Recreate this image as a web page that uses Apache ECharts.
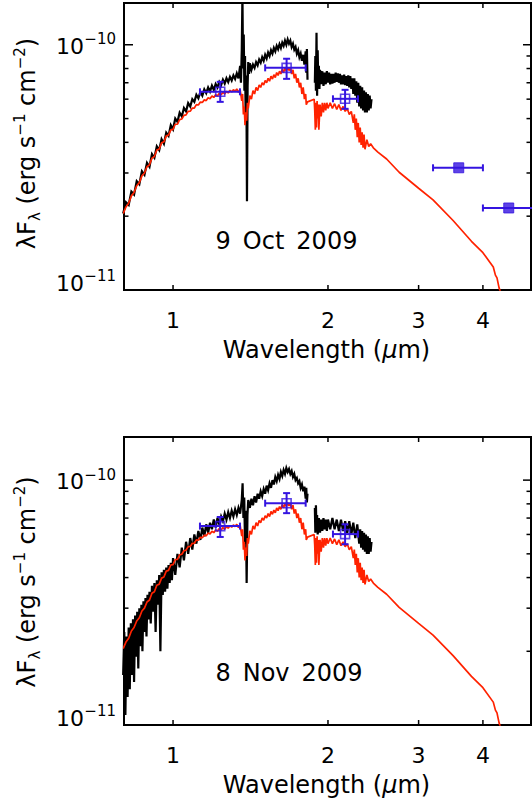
<!DOCTYPE html>
<html><head><meta charset="utf-8">
<script src="https://cdn.jsdelivr.net/npm/echarts@6/dist/echarts.min.js"></script>
<style>html,body{margin:0;padding:0;background:#fff}#c{width:532px;height:803px}</style>
</head><body><div id="c"></div>
<script>
// Flux values are lambda*F_lambda in units of 1e-11 erg s^-1 cm^-2; wavelengths in micron.
const xTickValues = [1, 2, 3, 4];
const yMajorValues = [1, 10];             // 1e-11, 1e-10
const yMinorValues = [2, 3, 4, 5, 6, 7, 8, 9];
const panelDates = ['9 Oct 2009', '8 Nov 2009'];

// Observed spectrum, 9 Oct 2009 (black)
const obsOct = [
[0.80,2.05],[0.81,2.28],[0.82,2.22],[0.83,2.52],[0.84,2.45],[0.85,2.78],[0.86,2.70],[0.87,3.05],[0.88,2.95],[0.89,3.30],
[0.90,3.18],[0.91,3.58],[0.92,3.46],[0.93,3.85],[0.94,3.72],[0.95,4.12],[0.96,3.95],[0.97,4.38],[0.98,4.25],[0.99,4.70],
[1.00,4.52],[1.01,5.00],[1.02,4.85],[1.03,5.28],[1.04,5.10],[1.05,5.52],[1.06,5.35],[1.07,5.78],[1.08,5.60],[1.09,6.00],
[1.10,5.85],[1.11,6.25],[1.12,6.05],[1.13,6.42],[1.14,6.20],[1.15,6.58],[1.16,6.35],[1.17,6.70],[1.18,6.45],[1.19,6.82],
[1.20,6.55],[1.21,6.92],[1.22,6.70],[1.23,7.05],[1.24,6.85],[1.25,7.20],[1.26,6.95],[1.27,7.30],[1.28,7.05],[1.29,7.40],
[1.30,7.15],[1.31,7.50],[1.32,7.25],[1.33,7.65],[1.34,7.30],
[1.350,8.2],[1.355,7.0],[1.360,9.5],[1.364,16],[1.368,8.0],[1.372,11.0],[1.376,6.5],[1.380,9.0],[1.384,5.0],[1.388,7.5],
[1.392,2.3],[1.396,6.8],[1.400,8.5],[1.405,7.6],[1.410,8.4],
[1.42,7.9],[1.43,8.3],[1.44,8.05],[1.45,8.5],[1.46,8.25],[1.47,8.7],[1.48,8.45],[1.49,8.9],[1.50,8.6],[1.51,9.1],
[1.52,8.8],[1.53,9.3],[1.54,9.0],[1.55,9.5],[1.56,9.2],[1.57,9.7],[1.58,9.4],[1.59,9.9],[1.60,9.6],[1.61,10.05],
[1.62,9.7],[1.63,10.2],[1.64,9.9],[1.65,10.4],[1.66,10.0],[1.67,10.5],[1.68,10.1],[1.69,10.4],[1.70,9.8],[1.71,10.1],
[1.72,9.55],[1.73,9.8],[1.74,9.2],[1.75,9.5],[1.76,8.9],[1.77,9.2],[1.78,8.6],[1.79,9.1],[1.80,8.3],[1.81,9.4],
[1.815,7.7],[1.82,9.6],[1.825,7.2],[1.85,null],
[1.886,7.0],[1.89,9.0],[1.895,6.5],[1.90,11.2],[1.905,6.2],[1.91,9.5],[1.915,6.8],[1.92,8.2],[1.925,6.6],[1.93,7.9],
[1.94,6.9],[1.95,7.8],[1.96,6.8],[1.97,7.7],[1.98,6.9],[1.99,7.8],[2.00,7.0],[2.01,7.7],[2.02,6.9],[2.03,7.6],
[2.04,6.95],[2.05,7.6],[2.06,7.0],[2.07,7.7],[2.08,7.05],[2.09,7.65],[2.10,7.0],[2.11,7.6],[2.12,6.9],[2.13,7.5],
[2.14,6.9],[2.15,7.55],[2.16,6.85],[2.17,7.45],[2.18,6.8],[2.19,7.5],[2.20,6.7],[2.21,7.45],[2.22,6.6],[2.23,7.3],
[2.24,6.3],[2.25,7.3],[2.26,6.2],[2.27,7.1],[2.28,5.8],[2.29,7.0],[2.30,5.6],[2.31,6.8],[2.32,5.5],[2.33,6.7],
[2.34,5.4],[2.35,6.5],[2.36,5.3],[2.37,6.4],[2.38,5.3],[2.39,6.3],[2.40,5.4],[2.41,6.2],[2.42,5.5],[2.43,6.0]
];

// Observed spectrum, 8 Nov 2009 (black)
const obsNov = [
[0.800,1.6],[0.804,2.4],[0.808,1.1],[0.812,2.3],[0.816,1.3],[0.820,2.5],[0.824,1.4],[0.828,2.6],[0.832,1.6],[0.836,2.7],
[0.840,1.5],[0.844,2.8],[0.848,1.9],[0.852,2.9],[0.856,1.7],[0.860,3.0],[0.864,2.1],[0.868,3.1],[0.872,2.0],[0.876,3.2],
[0.880,2.4],[0.884,3.3],[0.888,2.3],[0.892,3.4],[0.896,2.7],[0.900,3.5],[0.905,2.6],[0.910,3.7],[0.915,2.9],[0.920,3.8],
[0.925,2.4],[0.930,3.9],[0.935,3.1],[0.940,4.1],[0.945,2.0],[0.950,4.2],[0.955,3.4],[0.960,4.3],[0.965,3.5],[0.970,4.4],
[0.975,3.6],[0.980,4.5],[0.985,3.8],[0.990,4.6],[0.995,3.9],[1.000,4.8],[1.010,4.1],[1.020,5.0],[1.030,4.4],[1.040,5.3],
[1.050,4.7],[1.060,5.6],[1.070,5.0],[1.080,5.8],[1.090,5.2],[1.100,6.0],[1.110,5.5],[1.120,6.2],[1.130,5.7],[1.140,6.4],
[1.150,5.9],[1.160,6.6],[1.170,6.1],[1.180,6.7],[1.190,6.3],[1.200,6.9],[1.210,6.4],[1.220,7.0],[1.230,6.6],[1.240,7.1],
[1.250,6.8],[1.260,7.3],[1.270,6.9],[1.280,7.4],[1.290,7.0],[1.300,7.5],[1.310,7.1],[1.320,7.6],[1.330,7.2],[1.340,7.7],
[1.350,7.3],[1.360,8.3],[1.365,9.7],[1.370,7.0],[1.375,8.5],[1.380,5.5],[1.385,7.5],[1.390,3.8],[1.395,7.2],[1.400,8.3],
[1.410,7.7],[1.420,8.4],[1.430,7.9],[1.440,8.6],[1.450,8.1],[1.460,8.8],[1.470,8.4],[1.480,9.0],[1.490,8.6],[1.500,9.2],
[1.510,8.8],[1.520,9.5],[1.530,9.1],[1.540,9.7],[1.550,9.3],[1.560,10.0],[1.570,9.6],[1.580,10.3],[1.590,9.9],[1.600,10.5],
[1.610,10.1],[1.620,10.8],[1.630,10.4],[1.640,11.0],[1.650,10.6],[1.660,11.2],[1.670,10.8],[1.680,11.1],[1.690,10.6],[1.700,10.9],
[1.710,10.3],[1.720,10.6],[1.730,10.0],[1.740,10.2],[1.750,9.7],[1.760,9.9],[1.770,9.3],[1.780,9.6],[1.790,9.0],[1.800,9.4],
[1.810,8.4],[1.815,9.3],[1.820,8.1],[1.825,8.8],[1.85,null],
[1.886,7.7],[1.890,6.1],[1.895,7.9],[1.900,6.2],[1.905,7.2],[1.910,6.0],[1.920,7.0],[1.930,6.1],[1.940,6.9],[1.950,6.2],
[1.960,7.0],[1.970,6.3],[1.980,6.9],[1.990,6.2],[2.000,6.9],[2.020,6.3],[2.040,7.0],[2.060,6.3],[2.080,6.9],[2.100,6.2],
[2.120,6.9],[2.140,6.2],[2.160,6.8],[2.180,6.1],[2.200,6.8],[2.220,6.0],[2.240,6.7],[2.260,5.8],[2.280,6.6],[2.300,5.5],
[2.310,6.3],[2.320,5.3],[2.330,6.2],[2.340,5.2],[2.350,6.1],[2.360,5.1],[2.370,6.0],[2.380,5.0],[2.390,5.9],[2.400,5.0],
[2.410,5.8],[2.420,5.1],[2.430,5.6]
];

// Model spectrum (red), same in both panels
const modelSpec = [
[0.800,2.05],[0.810,2.18],[0.820,2.26],[0.830,2.42],[0.840,2.50],[0.850,2.66],[0.860,2.74],[0.870,2.92],[0.880,3.00],[0.890,3.18],
[0.900,3.24],[0.910,3.45],[0.920,3.50],[0.930,3.72],[0.940,3.76],[0.950,3.98],[0.960,4.02],[0.970,4.25],[0.980,4.28],[0.990,4.50],
[1.000,4.52],[1.010,4.74],[1.020,4.75],[1.030,4.95],[1.040,4.98],[1.050,5.15],[1.060,5.18],[1.070,5.35],[1.080,5.36],[1.090,5.52],
[1.100,5.52],[1.110,5.70],[1.120,5.68],[1.130,5.84],[1.140,5.82],[1.150,5.96],[1.160,5.92],[1.170,6.08],[1.180,6.02],[1.190,6.18],
[1.200,6.10],[1.210,6.26],[1.220,6.18],[1.230,6.34],[1.240,6.25],[1.250,6.40],[1.260,6.30],[1.270,6.46],[1.280,6.36],[1.290,6.52],
[1.300,6.42],[1.310,6.56],[1.320,6.46],[1.330,6.60],[1.340,6.40],[1.350,6.55],[1.360,5.9],[1.365,6.3],[1.370,5.2],[1.375,5.6],
[1.380,4.7],[1.385,5.3],[1.390,4.9],[1.395,5.8],[1.400,5.5],[1.410,6.2],[1.420,6.0],[1.430,6.5],[1.440,6.3],[1.450,6.7],
[1.460,6.5],[1.470,6.85],[1.480,6.7],[1.490,7.0],[1.500,6.85],[1.510,7.15],[1.520,7.0],[1.530,7.3],[1.540,7.1],[1.550,7.45],
[1.560,7.25],[1.570,7.55],[1.580,7.35],[1.590,7.7],[1.600,7.5],[1.610,7.8],[1.620,7.6],[1.630,7.95],[1.640,7.7],[1.650,8.05],
[1.660,7.8],[1.670,8.1],[1.680,7.85],[1.690,8.05],[1.700,7.6],[1.710,7.9],[1.720,7.3],[1.730,7.6],[1.740,7.0],[1.750,7.3],
[1.760,6.7],[1.770,7.0],[1.780,6.3],[1.790,6.7],[1.800,6.0],[1.810,6.3],[1.815,5.7],[1.825,5.85],[1.880,6.0],[1.885,5.4],
[1.890,4.5],[1.895,5.8],[1.900,4.6],[1.905,5.9],[1.910,5.0],[1.915,5.7],[1.920,4.5],[1.930,5.7],[1.940,5.1],[1.950,5.8],
[1.960,5.3],[1.970,5.8],[1.980,5.4],[1.990,5.8],[2.000,5.5],[2.020,5.8],[2.040,5.5],[2.060,5.75],[2.080,5.45],[2.100,5.7],
[2.120,5.4],[2.140,5.6],[2.160,5.35],[2.180,5.5],[2.200,5.2],[2.220,5.35],[2.240,4.8],[2.250,5.2],[2.260,4.5],[2.270,5.0],
[2.280,4.2],[2.290,4.8],[2.300,4.0],[2.310,4.6],[2.320,3.9],[2.330,4.4],[2.340,3.8],[2.350,4.3],[2.360,3.75],[2.380,4.1],
[2.400,3.85],[2.420,3.95],[2.450,3.8],[2.500,3.65],[2.600,3.42],[2.750,3.02],[3.000,2.60],[3.200,2.33],[3.500,1.92],[3.800,1.58],
[4.000,1.42],[4.190,1.24],[4.230,1.15],[4.260,1.12],[4.300,1.02],[4.350,0.95],[4.400,0.88]
];

// Photometry (blue): wavelength, band low/high, flux, flux low/high
const jhkWl   = [1.235, 1.662, 2.159];
const jhkWlLo = [1.128, 1.510, 2.045];
const jhkWlHi = [1.349, 1.810, 2.287];
const jhkOct   = [6.43, 8.05, 6.02];
const jhkOctLo = [5.85, 7.26, 5.48];
const jhkOctHi = [7.06, 8.77, 6.55];
const jhkNov   = [6.49, 8.05, 6.02];
const jhkNovLo = [5.86, 7.33, 5.47];
const jhkNovHi = [7.07, 8.85, 6.60];
const iracWl   = [3.59, 4.49];
const iracWlLo = [3.20, 4.00];
const iracWlHi = [4.00, 5.05];
const iracOct  = [3.15, 2.16];

const X_MIN = 0.803, X_MAX = 4.96;
const Y_MIN = 1;
const Y_MAX = [14.8, 15.0];
const BLUE = '#3414e0', RED = '#ff2200';
const FONT = '"DejaVu Sans", "Liberation Sans", sans-serif';

function errRows(wl, lo, hi, f, flo, fhi) {
  return wl.map((w, i) => [w, f[i], lo[i], hi[i], flo ? flo[i] : f[i], fhi ? fhi[i] : f[i]]);
}

function errRender(params, api) {
  const x = api.value(0), y = api.value(1);
  const c = api.coord([x, y]);
  const pl = api.coord([api.value(2), y]);
  const ph = api.coord([api.value(3), y]);
  const st = { stroke: BLUE, lineWidth: 2 };
  const cap = 3.5;
  const ch = [
    { type: 'line', shape: { x1: pl[0], y1: c[1], x2: ph[0], y2: c[1] }, style: st },
    { type: 'line', shape: { x1: pl[0], y1: c[1] - cap, x2: pl[0], y2: c[1] + cap }, style: st },
    { type: 'line', shape: { x1: ph[0], y1: c[1] - cap, x2: ph[0], y2: c[1] + cap }, style: st }
  ];
  const ylo = api.value(4), yhi = api.value(5);
  if (ylo !== yhi) {
    const ql = api.coord([x, ylo]), qh = api.coord([x, yhi]);
    ch.push({ type: 'line', shape: { x1: c[0], y1: ql[1], x2: c[0], y2: qh[1] }, style: st });
    ch.push({ type: 'line', shape: { x1: c[0] - cap, y1: ql[1], x2: c[0] + cap, y2: ql[1] }, style: st });
    ch.push({ type: 'line', shape: { x1: c[0] - cap, y1: qh[1], x2: c[0] + cap, y2: qh[1] }, style: st });
  }
  return { type: 'group', children: ch };
}

function txt(x, y, text, size, align, extra) {
  return Object.assign({ type: 'text', x: x, y: y, style: {
    text: text, fill: '#000', fontSize: size, fontFamily: FONT,
    align: align, textAlign: align, verticalAlign: 'middle', textVerticalAlign: 'middle'
  }}, extra || {});
}

function decorRender(params, api) {
  const cs = params.coordSys;
  const left = cs.x, right = cs.x + cs.width, top = cs.y, bottom = cs.y + cs.height;
  const kind = api.value(2);
  const st = { stroke: '#000', lineWidth: 1.5 };
  if (kind === 0) {
    const v = api.value(0);
    const px = api.coord([v, Y_MIN])[0];
    return { type: 'group', children: [
      { type: 'line', shape: { x1: px, y1: bottom, x2: px, y2: bottom - 5 }, style: st },
      { type: 'line', shape: { x1: px, y1: top, x2: px, y2: top + 5 }, style: st },
      txt(px, bottom + 30, String(v), 22, 'center')
    ]};
  }
  const v = api.value(1);
  const py = api.coord([X_MIN, v])[1];
  if (kind === 1) {
    return { type: 'group', children: [
      { type: 'line', shape: { x1: left, y1: py, x2: left + 4.5, y2: py }, style: st },
      { type: 'line', shape: { x1: right, y1: py, x2: right - 4.5, y2: py }, style: st }
    ]};
  }
  const exp = Math.round(Math.log10(v)) - 11;
  const mainY = py + (v === Y_MIN ? -7 : 1.5);
  return { type: 'group', children: [
    { type: 'line', shape: { x1: left, y1: py, x2: left + 9, y2: py }, style: st },
    { type: 'line', shape: { x1: right, y1: py, x2: right - 8, y2: py }, style: st },
    txt(84, mainY, '10', 22, 'right'),
    txt(116, mainY - 7, '\u2212' + Math.abs(exp), 15, 'right')
  ]};
}

const decorData = [].concat(
  xTickValues.map(v => [v, Y_MIN, 0]),
  yMinorValues.map(v => [X_MIN, v, 1]),
  yMajorValues.map(v => [X_MIN, v, 2])
);

const grids = [
  { left: 124, top: 3, width: 407, height: 287 },
  { left: 124, top: 437, width: 407, height: 288 }
];

const xAxes = [], yAxes = [], series = [];
grids.forEach((g, i) => {
  xAxes.push({ type: 'log', gridIndex: i, min: X_MIN, max: X_MAX,
    axisLine: { show: false }, axisTick: { show: false }, axisLabel: { show: false }, splitLine: { show: false } });
  yAxes.push({ type: 'log', gridIndex: i, min: Y_MIN, max: Y_MAX[i],
    axisLine: { show: false }, axisTick: { show: false }, axisLabel: { show: false }, splitLine: { show: false } });
});

const obsList = [obsOct, obsNov];
obsList.forEach((obs, i) => {
  series.push({ type: 'line', name: 'observed ' + panelDates[i], xAxisIndex: i, yAxisIndex: i,
    data: obs, showSymbol: false, symbol: 'none', connectNulls: false,
    lineStyle: { color: '#000', width: 2.2, join: 'miter', miterLimit: 4 }, z: 2, clip: true });
  series.push({ type: 'line', name: 'model', xAxisIndex: i, yAxisIndex: i,
    data: modelSpec, showSymbol: false, symbol: 'none',
    lineStyle: { color: RED, width: 1.7 }, z: 3, clip: true });
});

const jhkRows = [
  errRows(jhkWl, jhkWlLo, jhkWlHi, jhkOct, jhkOctLo, jhkOctHi),
  errRows(jhkWl, jhkWlLo, jhkWlHi, jhkNov, jhkNovLo, jhkNovHi)
];
const iracRows = errRows(iracWl, iracWlLo, iracWlHi, iracOct, null, null);

[0, 1].forEach(i => {
  const rows = i === 0 ? jhkRows[0].concat(iracRows) : jhkRows[1];
  series.push({ type: 'custom', xAxisIndex: i, yAxisIndex: i, renderItem: errRender,
    data: rows, z: 4, encode: { x: 0, y: 1 } });
  series.push({ type: 'scatter', xAxisIndex: i, yAxisIndex: i, symbol: 'rect', symbolSize: 9,
    data: jhkRows[i].map(r => [r[0], r[1]]),
    itemStyle: { color: 'rgba(0,0,0,0)', borderColor: BLUE, borderWidth: 1.6 }, z: 5 });
  if (i === 0) {
    series.push({ type: 'scatter', xAxisIndex: 0, yAxisIndex: 0, symbol: 'rect', symbolSize: 10,
      data: iracRows.map(r => [r[0], r[1]]),
      itemStyle: { color: BLUE, borderColor: BLUE, borderWidth: 1 }, z: 5 });
  }
  series.push({ type: 'custom', xAxisIndex: i, yAxisIndex: i, renderItem: decorRender,
    data: decorData, z: 6, encode: { x: 0, y: 1 } });
});

const yLabelRich = {
  m: { fontSize: 24, fontFamily: FONT, lineHeight: 30, fill: '#000' },
  sub: { fontSize: 15, fontFamily: FONT, lineHeight: 24, verticalAlign: 'bottom', fill: '#000' },
  sup: { fontSize: 15, fontFamily: FONT, lineHeight: 20, verticalAlign: 'top', fill: '#000' }
};
const yLabelText = '{m|\u03bbF}{sub|\u03bb}{m| (erg s}{sup|\u22121}{m| cm}{sup|\u22122}{m|)}';
const xLabelRich = {
  m: { fontSize: 24, fontFamily: FONT, fill: '#000' },
  i: { fontSize: 24, fontFamily: FONT, fontStyle: 'italic', fill: '#000' }
};
const xLabelText = '{m|Wavelength (}{i|\u03bc}{m|m)}';

const graphics = [];
[0, 1].forEach(i => {
  const g = grids[i];
  const bottom = g.top + g.height;
  graphics.push({ type: 'text', x: 27, y: [143.5, 582][i], rotation: Math.PI / 2,
    style: { text: yLabelText, rich: yLabelRich, align: 'center', textAlign: 'center', verticalAlign: 'middle', textVerticalAlign: 'middle' } });
  graphics.push({ type: 'text', x: 326.5, y: bottom + 59.5,
    style: { text: xLabelText, rich: xLabelRich, align: 'center', textAlign: 'center', verticalAlign: 'middle', textVerticalAlign: 'middle' } });
  graphics.push({ type: 'text', x: [286.5, 289][i], y: [240.5, 673][i],
    style: { text: panelDates[i].replace(/ /g, '\u2002'), fontSize: 24, fontFamily: FONT, fill: '#000',
      align: 'center', textAlign: 'center', verticalAlign: 'middle', textVerticalAlign: 'middle' } });
});

const chart = echarts.init(document.getElementById('c'), null, { renderer: 'svg' });
chart.setOption({
  animation: false,
  backgroundColor: '#fff',
  grid: grids.map(g => Object.assign({ show: true, borderColor: '#000', borderWidth: 2, backgroundColor: 'transparent', containLabel: false }, g)),
  xAxis: xAxes,
  yAxis: yAxes,
  series: series,
  graphic: graphics
});
</script></body></html>
